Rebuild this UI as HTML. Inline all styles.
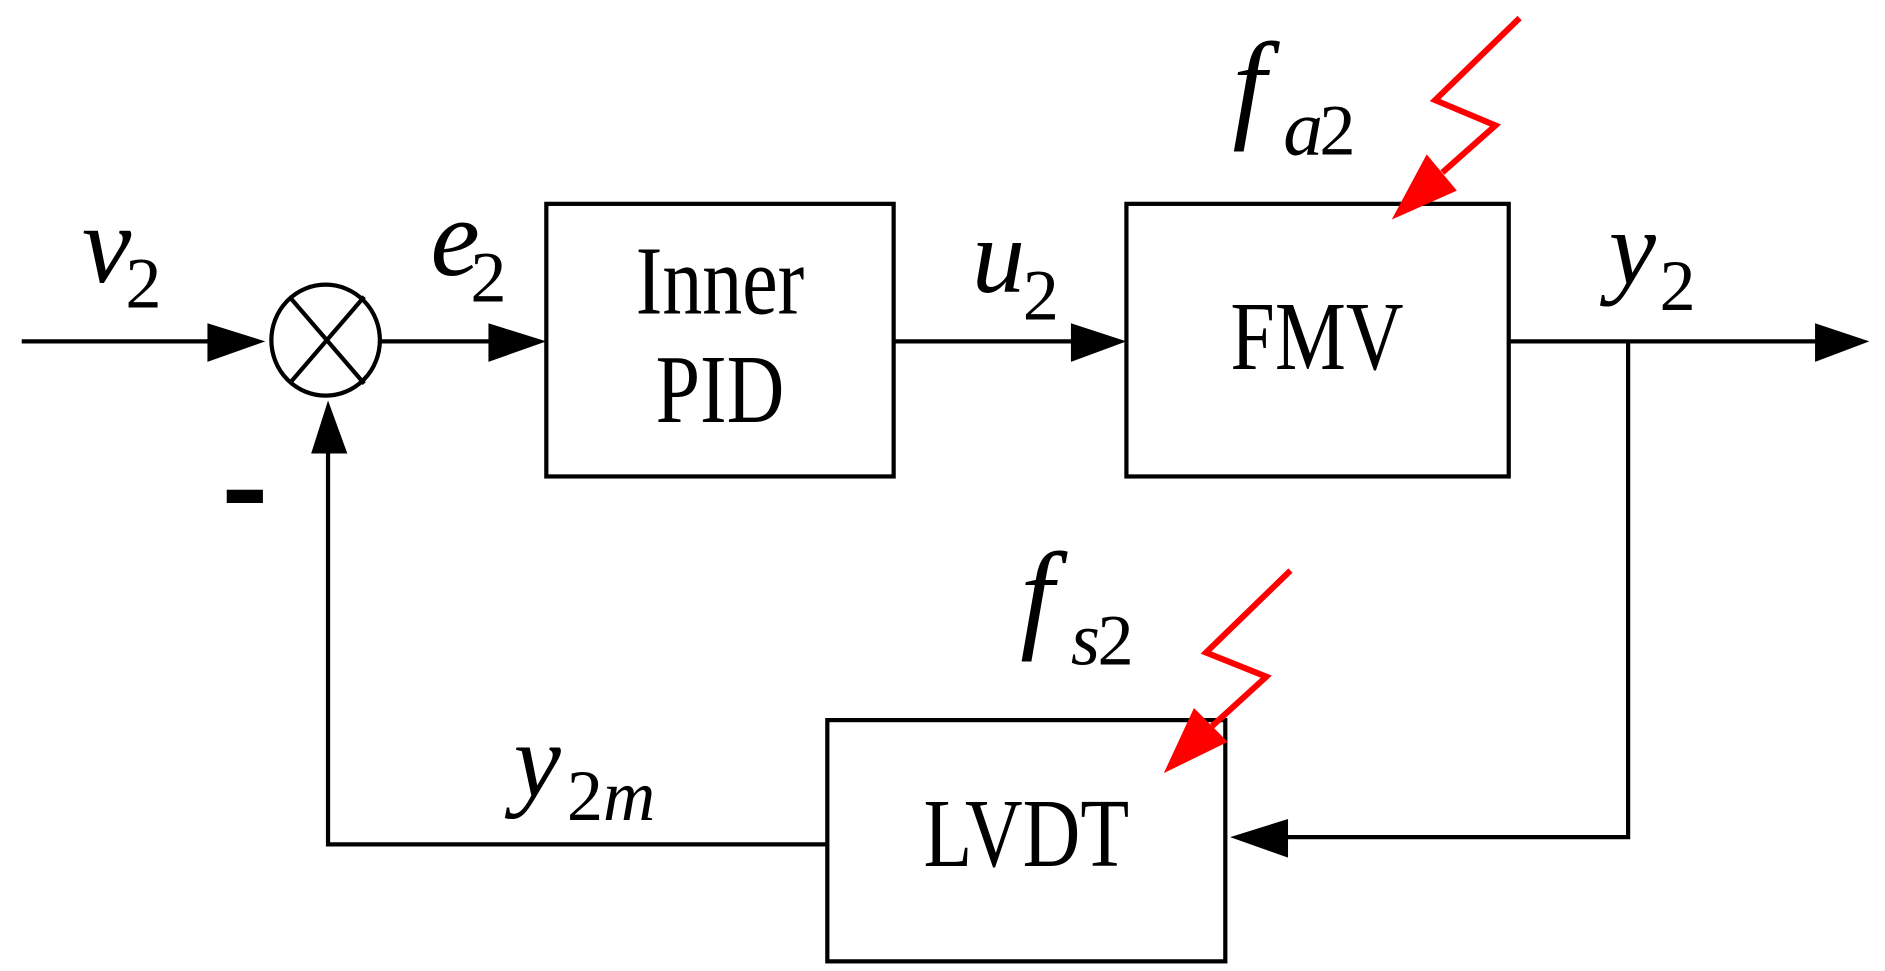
<!DOCTYPE html>
<html><head><style>html,body{margin:0;padding:0;background:#fff}svg{display:block}</style></head>
<body>
<svg width="1885" height="971" viewBox="0 0 1563 805" preserveAspectRatio="none" xmlns="http://www.w3.org/2000/svg" font-family="Liberation Serif, serif">
<g stroke="#000" stroke-width="3.5" fill="none">
<rect x="453" y="169" width="288" height="226"/>
<rect x="934" y="169" width="317" height="226"/>
<rect x="686" y="597" width="330" height="200"/>
<ellipse cx="270" cy="282" rx="45" ry="46"/>
<line x1="240" y1="246" x2="302" y2="318"/>
<line x1="302" y1="246" x2="240" y2="318"/>
<line x1="18" y1="283" x2="200" y2="283"/>
<line x1="315" y1="283" x2="430" y2="283"/>
<line x1="741" y1="283" x2="910" y2="283"/>
<line x1="1251" y1="283" x2="1530" y2="283"/>
<polyline points="1350,283 1350,694 1040,694"/>
<polyline points="686,700 272,700 272,360"/>
</g>
<g fill="#000">
<polygon points="172,268 220,283 172,300"/>
<polygon points="405,268 453,283 405,300"/>
<polygon points="888,268 934,283 888,300"/>
<polygon points="1505,268 1550,283 1505,300"/>
<polygon points="1068,679 1020,694 1068,711"/>
<polygon points="258,376 272,332 288,376"/>
<rect x="188" y="406" width="30" height="11"/>
</g>
<g font-size="72" text-anchor="middle">
<text transform="translate(597,260) scale(0.92,1.12)">Inner</text>
<text transform="translate(597,350) scale(0.92,1.12)">PID</text>
<text transform="translate(1092,306) scale(0.92,1.12)">FMV</text>
<text transform="translate(851,718) scale(0.92,1.12)">LVDT</text>
</g>
<g>
<text x="68" y="234" font-size="92" font-style="italic">v</text><text x="104" y="255" font-size="60">2</text>
<text x="357" y="228" font-size="92" font-style="italic">e</text><text x="390" y="250" font-size="60">2</text>
<text x="806" y="242" font-size="88" font-style="italic">u</text><text x="848" y="265" font-size="60">2</text>
<text x="1334" y="235" font-size="88" font-style="italic">y</text><text x="1376" y="257" font-size="60">2</text>
<text x="1022" y="104" font-size="100" font-style="italic">f</text><text x="1064" y="128" font-size="66" font-style="italic">a</text><text x="1094" y="128" font-size="60">2</text>
<text x="846" y="527" font-size="100" font-style="italic">f</text><text x="888" y="551" font-size="62" font-style="italic">s</text><text x="910" y="551" font-size="60">2</text>
<text x="426" y="660" font-size="88" font-style="italic">y</text><text x="470" y="680" font-size="60">2</text><text x="500" y="680" font-size="60" font-style="italic">m</text>
</g>
<g stroke="#f00" stroke-width="5" fill="none">
<polyline points="1260,15 1190,83 1240,104 1196,143"/>
<polyline points="1070,473 1000,541 1050,561 1005,602"/>
</g>
<g fill="#f00">
<polygon points="1154,182 1183,128 1208,158"/>
<polygon points="965,641 990,587 1018,615"/>
</g>
</svg>
</body></html>
